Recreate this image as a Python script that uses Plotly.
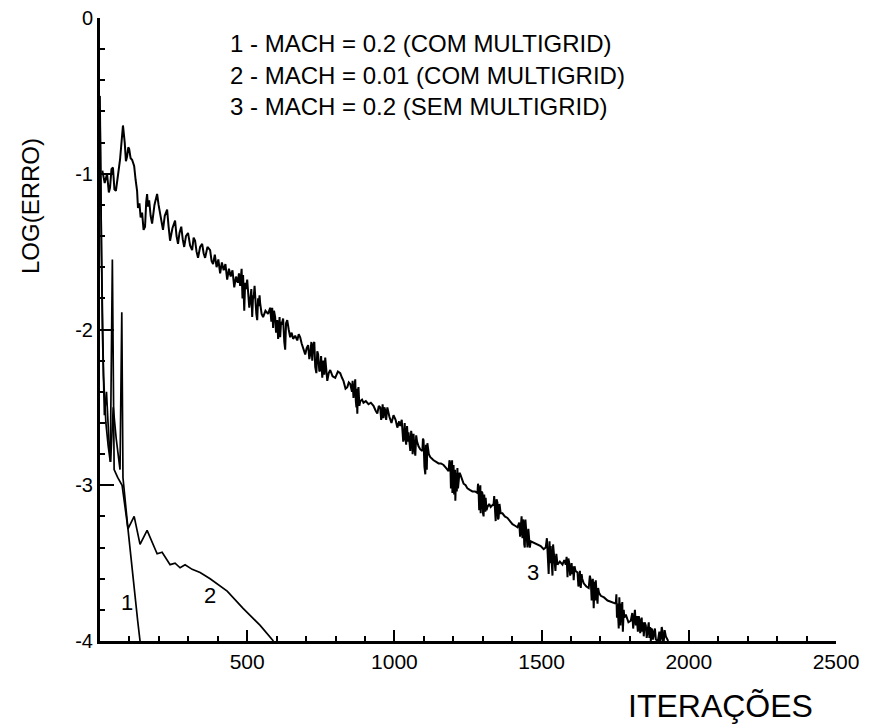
import plotly.graph_objects as go

# ---- data ----
c1_x = [0, 5, 12, 20, 28, 35, 42, 48, 60, 75, 95, 112, 128, 136]
c1_y = [-0.5, -1.5, -2.3, -2.6, -2.75, -2.85, -1.55, -2.9, -2.95, -3.0, -3.28, -3.6, -3.87, -4.0]

c2_x = [0, 8, 15, 22, 30, 36, 45, 55, 68, 74, 78, 85, 95, 116, 136, 160, 194, 211, 238, 255,
        272, 289, 313, 340, 374, 432, 486, 544, 589]
c2_y = [-0.6, -2.0, -2.55, -2.4, -2.7, -2.85, -2.5, -2.7, -2.9, -1.89, -2.95, -3.1, -3.28, -3.20,
        -3.38, -3.29, -3.44, -3.43, -3.51, -3.50, -3.53, -3.51, -3.54, -3.56, -3.60, -3.68, -3.79,
        -3.90, -4.0]

c3_pts = [
    (8, -0.98), (16, -1.06), (24, -1.00), (30, -1.12), (34, -1.09), (39, -0.97), (44, -0.96),
    (49, -1.10), (54, -1.11), (58, -1.02), (61, -1.01), (68, -0.91), (73, -0.78), (78, -0.69),
    (84, -0.80), (88, -0.92), (92, -0.89), (96, -0.83), (99, -0.84), (104, -0.90), (109, -0.91),
    (113, -0.93), (116, -0.95), (121, -1.04), (126, -1.11), (129, -1.22), (134, -1.19),
    (138, -1.28), (143, -1.25), (148, -1.36), (153, -1.34), (157, -1.18), (160, -1.13),
    (163, -1.21), (167, -1.17), (172, -1.27), (177, -1.32), (185, -1.20), (190, -1.16),
    (194, -1.13), (199, -1.20), (204, -1.25), (209, -1.31), (214, -1.36), (220, -1.27),
    (228, -1.23), (233, -1.34), (238, -1.43), (246, -1.35), (255, -1.30), (260, -1.40),
    (265, -1.45), (270, -1.38), (276, -1.34), (281, -1.42), (286, -1.47), (292, -1.40),
    (299, -1.38), (306, -1.46), (313, -1.49), (318, -1.41), (323, -1.43), (328, -1.50),
    (333, -1.54), (340, -1.47), (347, -1.45), (352, -1.51), (357, -1.54), (365, -1.47),
    (374, -1.49), (379, -1.56), (384, -1.58),
    (390, -1.52), (396, -1.60), (402, -1.55), (408, -1.64), (414, -1.57), (420, -1.62),
    (426, -1.58), (432, -1.68), (438, -1.61), (444, -1.66), (450, -1.62), (456, -1.73),
    (462, -1.66), (468, -1.70), (472, -1.64), (476, -1.72),
    (481, -1.61), (484, -1.80), (486, -1.65), (488, -1.84), (490, -1.88), (493, -1.70),
    (496, -1.74), (500, -1.68), (503, -1.76), (507, -1.86), (510, -1.82), (514, -1.74),
    (517, -1.92), (520, -1.78), (522, -1.80), (525, -1.72), (527, -1.79), (531, -1.90),
    (534, -1.94), (537, -1.80), (539, -1.85), (542, -1.78), (544, -1.83), (549, -1.90),
    (554, -1.92), (562, -1.88), (571, -1.90), (578, -1.86), (582, -1.95), (585, -1.86),
    (588, -1.99), (591, -1.88), (595, -1.92), (598, -2.02), (602, -1.94), (605, -2.06),
    (607, -2.02), (610, -1.92), (612, -2.05), (615, -1.95), (617, -1.97), (622, -1.93),
    (626, -2.08), (629, -2.13), (632, -1.96), (636, -1.94), (641, -2.00), (646, -2.05),
    (651, -2.02), (656, -2.06), (663, -2.04), (670, -2.07), (675, -2.03), (680, -2.05),
    (685, -2.09), (690, -2.12), (697, -2.16), (702, -2.12), (707, -2.10), (711, -2.19),
    (714, -2.16), (718, -2.08), (721, -2.20), (724, -2.10), (728, -2.08), (731, -2.24),
    (735, -2.28), (738, -2.14), (741, -2.16), (745, -2.27), (748, -2.26), (751, -2.17),
    (755, -2.31), (759, -2.20), (762, -2.29), (765, -2.18), (769, -2.30), (772, -2.33),
    (777, -2.28), (782, -2.26), (790, -2.30), (799, -2.31), (808, -2.27), (816, -2.28),
    (822, -2.31), (827, -2.33), (834, -2.38), (840, -2.37), (845, -2.34), (850, -2.35),
    (856, -2.40), (858, -2.33), (861, -2.44), (864, -2.36), (867, -2.32), (869, -2.46),
    (871, -2.50), (872, -2.38), (874, -2.54), (876, -2.40), (878, -2.37), (881, -2.49),
    (884, -2.46), (890, -2.45), (895, -2.47), (903, -2.46), (912, -2.48), (920, -2.47),
    (929, -2.49), (936, -2.52), (942, -2.54), (947, -2.49), (952, -2.50), (955, -2.58),
    (958, -2.55), (960, -2.48), (963, -2.57), (966, -2.50), (969, -2.52), (972, -2.58),
    (976, -2.50),
    (983, -2.56), (990, -2.60), (997, -2.55), (1004, -2.58), (1010, -2.63), (1016, -2.59),
    (1020, -2.62),
    (1025, -2.58), (1027, -2.64), (1030, -2.72), (1032, -2.70), (1035, -2.60), (1037, -2.69),
    (1040, -2.74), (1043, -2.62), (1046, -2.72), (1048, -2.66), (1051, -2.75), (1054, -2.78),
    (1057, -2.65), (1060, -2.70), (1062, -2.80), (1065, -2.67), (1068, -2.76), (1071, -2.81),
    (1074, -2.68), (1077, -2.72), (1082, -2.75), (1088, -2.77), (1095, -2.78), (1097, -2.70),
    (1099, -2.71), (1102, -2.88), (1105, -2.93), (1107, -2.74), (1109, -2.76), (1110, -2.90),
    (1112, -2.73), (1117, -2.80), (1122, -2.82), (1128, -2.83), (1133, -2.84), (1142, -2.85),
    (1150, -2.86), (1158, -2.86), (1167, -2.87), (1176, -2.89), (1184, -2.91), (1187, -2.84),
    (1190, -2.86), (1192, -3.02), (1194, -2.98), (1196, -2.84), (1197, -3.05), (1199, -2.88),
    (1201, -2.87), (1203, -3.06), (1204, -3.00), (1206, -2.90), (1207, -3.10), (1210, -2.92),
    (1212, -3.04), (1214, -2.89), (1216, -3.02), (1218, -2.99), (1221, -2.92), (1224, -2.93),
    (1230, -2.97), (1235, -2.99), (1242, -3.00), (1248, -3.02), (1256, -3.03), (1265, -3.04),
    (1274, -3.04), (1282, -3.05), (1284, -2.99), (1286, -3.04), (1288, -3.16), (1290, -3.14),
    (1292, -3.00), (1293, -3.18), (1296, -3.04), (1299, -3.05), (1301, -3.18), (1303, -3.20),
    (1305, -3.06), (1307, -3.10), (1309, -3.17), (1310, -3.08), (1313, -3.16), (1316, -3.14),
    (1322, -3.12), (1327, -3.14), (1337, -3.12), (1339, -3.07), (1341, -3.18), (1344, -3.23),
    (1347, -3.09), (1350, -3.11), (1352, -3.22), (1354, -3.21), (1357, -3.12), (1361, -3.18),
    (1367, -3.18), (1375, -3.20), (1384, -3.21), (1392, -3.23), (1401, -3.25), (1410, -3.26),
    (1418, -3.27), (1424, -3.24), (1427, -3.33), (1429, -3.28), (1432, -3.20), (1435, -3.34),
    (1437, -3.22), (1439, -3.24), (1441, -3.38), (1443, -3.40), (1445, -3.22), (1446, -3.25),
    (1449, -3.38), (1452, -3.40),
    (1455, -3.28), (1457, -3.33), (1460, -3.40), (1463, -3.36), (1475, -3.37), (1486, -3.38),
    (1497, -3.39), (1507, -3.41), (1514, -3.40), (1518, -3.34), (1520, -3.40), (1522, -3.52),
    (1524, -3.57), (1527, -3.36), (1529, -3.50), (1531, -3.39), (1534, -3.55), (1537, -3.58),
    (1539, -3.38), (1541, -3.42), (1544, -3.53), (1547, -3.55), (1550, -3.44), (1554, -3.51),
    (1562, -3.49), (1571, -3.51), (1577, -3.48), (1582, -3.51), (1585, -3.46), (1588, -3.59),
    (1591, -3.47), (1594, -3.50), (1597, -3.58), (1599, -3.53), (1602, -3.50), (1604, -3.57),
    (1607, -3.52), (1609, -3.61), (1612, -3.52), (1615, -3.55), (1622, -3.56), (1625, -3.65),
    (1628, -3.62), (1630, -3.55), (1633, -3.66), (1636, -3.57), (1638, -3.60), (1643, -3.63),
    (1652, -3.65), (1660, -3.66), (1664, -3.58), (1667, -3.61), (1670, -3.74), (1672, -3.70),
    (1674, -3.60), (1677, -3.79), (1680, -3.62), (1682, -3.74), (1684, -3.61), (1687, -3.70),
    (1690, -3.76), (1692, -3.66), (1695, -3.69), (1701, -3.71), (1712, -3.72), (1724, -3.74),
    (1738, -3.75), (1752, -3.76), (1754, -3.70), (1756, -3.85), (1758, -3.76), (1760, -3.88),
    (1762, -3.92), (1764, -3.72), (1766, -3.80), (1768, -3.90), (1769, -3.76), (1772, -3.88),
    (1774, -3.75), (1776, -3.94), (1779, -3.80), (1781, -3.85), (1786, -3.83), (1795, -3.88),
    (1803, -3.87), (1808, -3.82), (1811, -3.92), (1813, -3.85), (1817, -3.80), (1820, -3.90),
    (1823, -3.84), (1827, -3.94), (1830, -3.84), (1832, -3.86), (1835, -3.95), (1837, -3.89),
    (1840, -3.85), (1842, -3.94), (1845, -3.88), (1847, -3.97), (1850, -3.88), (1854, -3.90),
    (1857, -3.98), (1861, -3.92), (1864, -3.88), (1866, -3.98), (1869, -3.91), (1871, -4.00),
    (1873, -3.92), (1876, -3.93), (1878, -3.99), (1881, -3.96), (1885, -3.92), (1888, -3.99),
    (1895, -4.00), (1900, -3.94), (1903, -4.00), (1905, -3.98), (1908, -3.91), (1910, -3.93),
    (1912, -4.00), (1915, -4.00), (1918, -3.93), (1922, -3.97), (1930, -4.00),
]
c3_x = [p[0] for p in c3_pts]
c3_y = [p[1] for p in c3_pts]

x_tickvals = [500, 1000, 1500, 2000, 2500]
x_ticktext = ["500", "1000", "1500", "2000", "2500"]
y_tickvals = [0, -1, -2, -3, -4]
y_ticktext = ["0", "-1", "-2", "-3", "-4"]

legend_lines = ["1 - MACH = 0.2 (COM MULTIGRID)",
                "2 - MACH = 0.01 (COM MULTIGRID)",
                "3 - MACH = 0.2 (SEM MULTIGRID)"]
curve_labels = ["1", "2", "3"]
curve_label_x = [92, 374, 1471]
curve_label_y = [-3.75, -3.71, -3.56]

# ---- layout geometry (page body adds an 8px margin) ----
OFF = 8
W, H = 861, 720
L, R, T, B = 92, 33, 10, 87
FONT = "Liberation Sans, Arial, sans-serif"


def px(xs):
    return (xs - OFF - L) / (W - L - R)


def py(ys):
    return 1 - (ys - OFF - T) / (H - T - B)


fig = go.Figure()
widths = [1.7, 1.7, 2.0]
for (xs, ys), wd in zip([(c1_x, c1_y), (c2_x, c2_y), (c3_x, c3_y)], widths):
    fig.add_trace(go.Scatter(x=xs, y=ys, mode="lines", line=dict(color="black", width=wd),
                             showlegend=False, hoverinfo="skip"))

annotations = []
for i, txt in enumerate(legend_lines):
    annotations.append(dict(text=txt, xref="paper", yref="paper", x=px(228), y=py(43 + 32 * i),
                            xanchor="left", yanchor="middle", showarrow=False,
                            font=dict(family=FONT, size=24, color="black")))
for lab, lx, ly in zip(curve_labels, curve_label_x, curve_label_y):
    annotations.append(dict(text=lab, x=lx, y=ly, xref="x", yref="y", showarrow=False,
                            xanchor="center", yanchor="middle",
                            font=dict(family=FONT, size=22, color="black")))
annotations.append(dict(text="ITERAÇÕES", xref="paper", yref="paper", x=px(720), y=py(706),
                        xanchor="center", yanchor="middle", showarrow=False,
                        font=dict(family=FONT, size=32, color="black")))
annotations.append(dict(text="LOG(ERRO)", xref="paper", yref="paper", x=px(31), y=py(206),
                        xanchor="center", yanchor="middle", showarrow=False, textangle=-90,
                        font=dict(family=FONT, size=24, color="black")))

fig.update_layout(
    width=W, height=H, autosize=False,
    margin=dict(l=L, r=R, t=T, b=B, pad=0),
    paper_bgcolor="white", plot_bgcolor="white",
    showlegend=False,
    annotations=annotations,
    xaxis=dict(range=[0, 2500], tickvals=x_tickvals, ticktext=x_ticktext, automargin=False,
               showgrid=False, zeroline=False, showline=True, linecolor="black", linewidth=3,
               ticks="inside", ticklen=11, tickwidth=2, tickcolor="black", layer="above traces",
               ticklabeloverflow="allow",
               minor=dict(dtick=100, tick0=0, ticks="inside", ticklen=5, tickwidth=2,
                          tickcolor="black", showgrid=False),
               tickfont=dict(family=FONT, size=21, color="black")),
    yaxis=dict(range=[-4, 0], tickvals=y_tickvals, ticktext=y_ticktext, automargin=False,
               showgrid=False, zeroline=False, showline=True, linecolor="black", linewidth=3,
               ticks="inside", ticklen=14, tickwidth=2, tickcolor="black", layer="above traces",
               ticklabeloverflow="allow",
               minor=dict(dtick=0.2, tick0=0, ticks="inside", ticklen=5, tickwidth=2,
                          tickcolor="black", showgrid=False),
               tickfont=dict(family=FONT, size=20, color="black")),
)

fig.write_html("out.html")
